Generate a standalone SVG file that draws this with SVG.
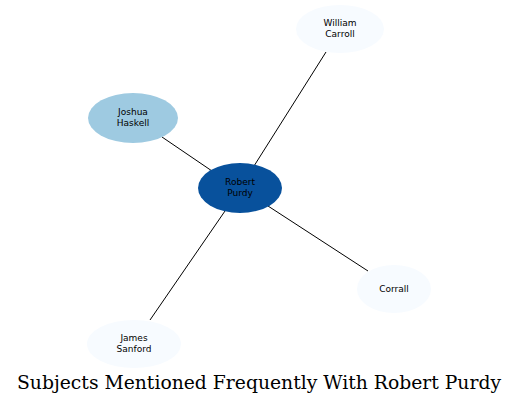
<svg xmlns="http://www.w3.org/2000/svg" width="519" height="405" viewBox="0 0 519 405">
<style>
.lbl{font-family:"DejaVu Sans","Noto Sans",sans-serif;font-size:9px;fill:#000;text-anchor:middle}
.edge{stroke:#000;stroke-width:1;fill:none}
.title{font-family:"DejaVu Serif","Liberation Serif",serif;font-size:18.5px;fill:#000;text-anchor:middle}
</style>
<rect width="519" height="405" fill="#fff"/>
<g id="connectors">
<line class="edge" x1="254" y1="166" x2="326" y2="52"/>
<line class="edge" x1="212" y1="171" x2="162" y2="137"/>
<line class="edge" x1="268" y1="206" x2="368" y2="271"/>
<line class="edge" x1="225" y1="211" x2="150" y2="320"/>
</g>
<g id="node-william-carroll">
<ellipse cx="340" cy="29" rx="44" ry="24" fill="#f7fbff"/>
<text class="lbl" x="340" y="26">William</text>
<text class="lbl" x="340" y="37">Carroll</text>
</g>
<g id="node-joshua-haskell">
<ellipse cx="133" cy="118" rx="45" ry="25" fill="#9ecae1"/>
<text class="lbl" x="133" y="115">Joshua</text>
<text class="lbl" x="133" y="126">Haskell</text>
</g>
<g id="node-robert-purdy">
<ellipse cx="240" cy="188" rx="42" ry="25" fill="#08519c"/>
<text class="lbl" x="240" y="185">Robert</text>
<text class="lbl" x="240" y="196">Purdy</text>
</g>
<g id="node-corrall">
<ellipse cx="394" cy="289" rx="37" ry="24" fill="#f7fbff"/>
<text class="lbl" x="394" y="292">Corrall</text>
</g>
<g id="node-james-sanford">
<ellipse cx="134" cy="344" rx="47" ry="24" fill="#f7fbff"/>
<text class="lbl" x="134" y="341">James</text>
<text class="lbl" x="134" y="352">Sanford</text>
</g>
<text class="title" x="259" y="389" textLength="484" lengthAdjust="spacingAndGlyphs">Subjects Mentioned Frequently With Robert Purdy</text>
</svg>
